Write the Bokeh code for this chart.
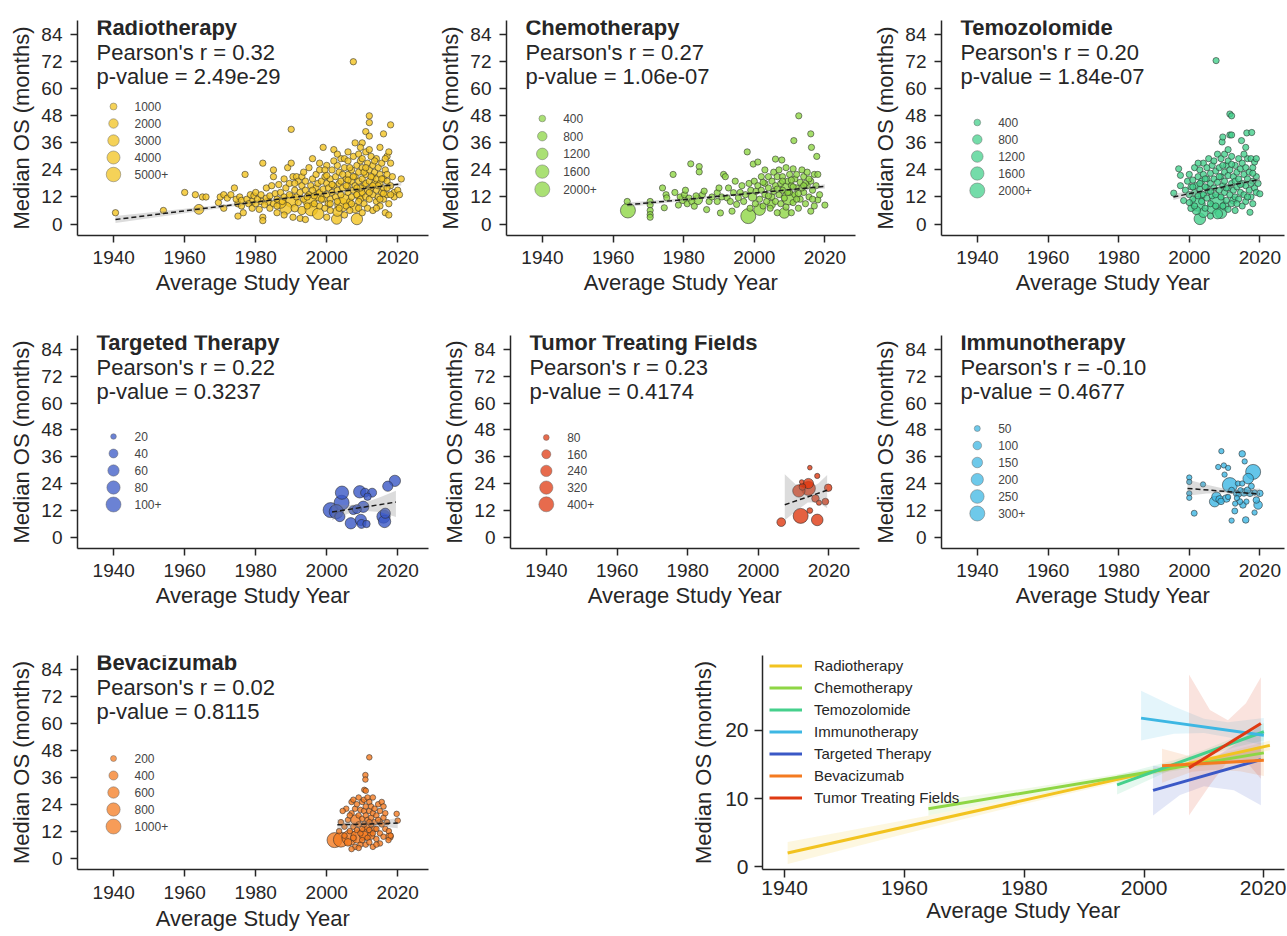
import math
from bokeh.plotting import figure
from bokeh.models import Range1d, FixedTicker, Label, Legend, LegendItem
from bokeh.layouts import row, column
from bokeh.embed import file_html
from bokeh.resources import INLINE

FONT = "Liberation Sans"
DARK = "#262626"

# ---------------- data (year, median OS months, sample size) ----------------
radio_pts = [
    (1940.5, 5, 800), (1954, 6, 800), (1960, 14, 800), (1963, 13, 800), (1964, 6.5, 2200), (1965, 12, 800),
    (1966, 12, 800), (1969.5, 9.5, 800), (1970, 12, 800), (1971, 13, 800), (1971, 7, 800), (1972, 11.5, 800),
    (1973, 13, 800), (1974, 16, 800), (1974.5, 11, 800), (1975, 3.5, 800), (1975, 9, 900), (1975.5, 12, 800),
    (1976, 8, 800), (1976, 10.5, 800), (1976.5, 5, 800), (1977, 22, 800), (1977.5, 11, 800), (1978, 9, 800),
    (1978.5, 13, 800), (1979, 10, 1000), (1979, 7, 800), (1979.5, 12.5, 800), (1980, 9, 800), (1980, 14, 800),
    (1980.5, 11, 800), (1981, 6.5, 800), (1981.5, 10, 900), (1981.5, 13, 800), (1982, 27, 800), (1982, 3, 800),
    (1982, 1.5, 800), (1982.5, 8.5, 800), (1983, 11.5, 800), (1983, 16, 800), (1983.5, 10, 1200), (1984, 7, 800),
    (1984, 12.5, 800), (1984.5, 17, 800), (1985, 21, 800), (1985, 24, 800), (1985, 9, 800), (1985.5, 13.5, 800),
    (1986, 5, 800), (1986, 11, 800), (1986.5, 17.5, 800), (1987, 14, 800), (1987, 9.5, 3000), (1987.5, 10, 800),
    (1988, 20, 800), (1988, 12, 800), (1988.5, 7, 3500), (1988.5, 16, 800), (1989, 25, 800), (1989.5, 13, 800),
    (1989.5, 18, 800), (1990, 42, 800), (1990, 27, 800), (1990, 10.5, 4500), (1990.5, 21, 800), (1990.5, 3, 800),
    (1991, 15, 800), (1991, 7, 1200), (1991.5, 12, 800), (1991.5, 21, 800), (1992, 19, 800), (1992, 9.5, 800),
    (1992.5, 2.5, 800), (1992.5, 14, 800), (1993, 17, 800), (1993, 21, 800), (1993, 6, 1500), (1993.5, 11, 800),
    (1994, 2, 800), (1994, 15, 800), (1994, 19, 800), (1994.5, 8, 800), (1995.2, 10.5, 5000), (1995, 13, 800),
    (1995, 25, 800), (1995.5, 17, 800), (1995.6, 6.5, 4000), (1996, 29, 800), (1996, 20, 800), (1996.5, 12.5, 800),
    (1997, 16, 800), (1997, 22, 800), (1997.6, 4.5, 3000), (1997.8, 12.5, 2500), (1997.5, 18, 800), (1998, 14, 800),
    (1998, 8, 800), (1998, 24, 800), (1998.5, 19, 800), (1999, 34, 800), (1999, 11, 800), (1999, 15.5, 800),
    (1999.5, 21, 800), (1999.5, 7, 800), (2000, 13, 800), (2000, 18, 800), (2000, 26, 800), (2000, 3, 800),
    (2000.5, 9, 1000), (2000.5, 16, 800), (2001, 20, 800), (2001, 11, 800), (2001, 6, 800), (2001.5, 14, 800),
    (2001.5, 24, 800), (2002, 33, 800), (2002, 17, 800), (2002.8, 2.2, 2500), (2003, 5.5, 2000), (2002.5, 12, 800),
    (2002.5, 21, 800), (2003, 26, 800), (2003, 15, 800), (2003, 10, 800), (2003.5, 18, 800), (2003.5, 23, 800),
    (2004, 29, 800), (2004, 13, 800), (2004.2, 8.5, 4500), (2004, 19, 800), (2004.5, 16, 800), (2005, 25, 800),
    (2005, 29, 800), (2005, 11, 2500), (2005, 4, 800), (2005.5, 20, 800), (2005.5, 8, 800), (2006, 28, 800),
    (2006, 17, 800), (2006, 14, 800), (2006, 22, 800), (2006.5, 10, 800), (2006.5, 6, 800), (2007, 19, 800),
    (2007, 24, 800), (2007, 12, 800), (2007.5, 72, 800), (2007.5, 15, 800), (2007.5, 30, 800), (2008, 36, 800),
    (2008, 21, 800), (2008, 7, 2000), (2008.5, 2.2, 3000), (2008, 17, 800), (2008.5, 26, 800), (2008.5, 13, 800),
    (2009, 31, 800), (2009, 19, 800), (2009, 23, 800), (2009, 7, 800), (2009.2, 13, 2500), (2009.5, 11, 800),
    (2009.5, 28, 800), (2010, 36, 800), (2010, 20, 800), (2010, 14, 800), (2010, 5, 800), (2010, 25, 800),
    (2010.5, 17, 800), (2010.5, 9, 800), (2011, 41, 800), (2011, 32, 800), (2011, 22, 800), (2011, 12, 800),
    (2011, 18, 800), (2011.5, 27, 800), (2011.5, 15, 800), (2011.5, 7, 800), (2012, 48, 800), (2012, 45, 800),
    (2012, 39, 800), (2012, 24, 800), (2012, 19, 800), (2012, 11, 800), (2012.5, 30, 800), (2012.5, 16, 800),
    (2013, 21, 800), (2013, 26, 800), (2013, 13, 800), (2013, 6, 800), (2013.5, 18, 800), (2013.5, 23, 800),
    (2014, 29, 800), (2014, 15, 800), (2014, 10, 800), (2014, 20, 800), (2014.5, 25, 800), (2014.5, 12, 800),
    (2015, 34, 800), (2015, 18, 800), (2015, 22, 800), (2015, 8, 800), (2015.5, 14, 800), (2015.5, 27, 800),
    (2016, 40, 800), (2016, 20, 800), (2016, 16, 800), (2016, 11, 800), (2016.5, 24, 800), (2016.5, 5, 800),
    (2017, 30, 800), (2017, 19, 800), (2017, 13, 800), (2017, 22, 800), (2017.5, 32, 800), (2017.5, 9, 800),
    (2017.5, 4, 800), (2018, 44, 800), (2018, 17, 800), (2018, 27, 800), (2019, 14, 800), (2019, 12, 800),
    (2020, 15, 800), (2021, 20, 800), (2020.5, 13, 800), (1996.5, 9, 800), (1998.5, 11, 800), (2001, 9, 800),
    (2003.5, 7, 800), (2006, 19.5, 800), (2007, 9, 800), (2009.5, 16, 800), (2012.5, 21, 800), (2014.5, 17, 800),
    (2016, 13.5, 800), (2018.5, 21, 800), (2010.5, 23, 800), (1999.5, 24, 800), (1994.5, 12, 800),
    (1986, 8, 800), (1988, 4, 800), (1991, 18, 800), (1993.5, 23, 800), (1996, 15, 800), (1998, 27, 800),
    (2000, 21.5, 800), (2001.5, 17.5, 800), (2002, 28, 800), (2003, 31, 800), (2004.5, 22, 800), (2005.5, 17, 800),
    (2006.5, 25, 800), (2007.5, 21, 800), (2008.5, 16, 800), (2009, 10, 800), (2010, 29, 800), (2011, 25, 800),
    (2012, 14, 800), (2013, 17, 800), (2013.5, 28, 800), (2014, 7, 800), (2015, 11, 800), (2015.5, 20, 800),
    (2016.5, 29, 800), (2017, 16, 800), (2018, 13, 800), (2012, 33, 800), (2009.5, 34, 800), (2006, 32, 800),
]

chemo_pts = [
    (1964, 10, 350), (1964.2, 6, 2000), (1970.5, 10, 350), (1970.5, 8.5, 350), (1970.5, 6, 350), (1970.5, 4.2, 350),
    (1970.5, 3, 350), (1974, 16, 350), (1974.5, 7.2, 350), (1975, 13, 350), (1975.2, 11.6, 350), (1977, 22, 350),
    (1977.5, 14, 350), (1978.5, 8.4, 350), (1979, 12, 350), (1979.8, 10.9, 600), (1980.2, 13, 350), (1980.5, 15, 350),
    (1981, 9, 350), (1981.5, 11.5, 350), (1982, 26.7, 350), (1982.3, 10, 350), (1983, 7.9, 350), (1983.5, 12.5, 350),
    (1984, 10.7, 800), (1984.4, 25.5, 350), (1984.4, 23.1, 350), (1985.3, 13, 350), (1985.8, 14.6, 350),
    (1986.5, 6.4, 350), (1987.2, 10, 350), (1988, 12, 350), (1989.5, 13.9, 350), (1989.5, 10, 350), (1990, 16, 350),
    (1990.4, 4.9, 350), (1990.8, 12, 350), (1991.3, 22, 350), (1991.8, 21, 350), (1992.3, 11.6, 350),
    (1992.7, 16, 350), (1993.2, 10, 350), (1993.7, 5.7, 350), (1994.1, 13.9, 350), (1994.6, 19, 350),
    (1995, 8.7, 350), (1995.5, 11.6, 350), (1996, 14, 350), (1996.5, 17, 350), (1997, 10, 350), (1997.5, 13, 350),
    (1998, 32, 350), (1998.3, 3.5, 2000), (1998.5, 18, 350), (1998.8, 7, 350), (1999, 15, 350), (1999.5, 12, 600),
    (1999.7, 26.6, 350), (2000, 19, 350), (2000.3, 9, 350), (2000.5, 14.5, 350), (2001, 27.5, 350), (2001, 17, 350),
    (2001.5, 6.4, 1200), (2001.5, 11, 350), (2002, 21, 350), (2002, 15, 350), (2002.5, 8, 350), (2003, 24, 350),
    (2003, 13, 350), (2003, 18, 350), (2003.5, 10, 350), (2004, 21, 350), (2004, 16, 350), (2004.5, 7, 350),
    (2004.8, 8.7, 600), (2005, 12, 350), (2005, 19, 350), (2005.5, 23, 350), (2005.5, 14.5, 350), (2006, 28.8, 350),
    (2006, 10, 350), (2006, 17, 350), (2006.5, 21, 350), (2006.5, 5, 350), (2007, 13, 350), (2007, 24, 350),
    (2007.5, 18, 350), (2007.8, 28.4, 350), (2007.5, 9, 350), (2008, 15, 350), (2008, 21, 350), (2008.5, 4.9, 1000),
    (2008.5, 11.5, 350), (2008.9, 16, 900), (2009, 25, 350), (2009, 7.5, 350), (2009.5, 19, 350),
    (2009.8, 11.6, 1800), (2010, 22, 350), (2010, 14, 350), (2010.5, 5, 350), (2010.5, 17, 350), (2011, 24.5, 350),
    (2011.2, 37, 350), (2011, 9.5, 350), (2011.5, 20, 350), (2011.5, 13, 350), (2012, 16, 350), (2012.6, 48, 350),
    (2012, 22, 350), (2012.5, 7, 350), (2013, 11, 350), (2013, 18.5, 350), (2013.5, 24, 350), (2014, 14, 350),
    (2014, 21, 350), (2014.5, 9, 350), (2015, 17, 350), (2015, 23, 350), (2015.5, 12, 350), (2016, 40, 350),
    (2016.2, 34, 350), (2016, 5.7, 350), (2016, 19, 350), (2016.5, 15, 350), (2017, 22, 350), (2017, 8, 350),
    (2017.7, 30, 350), (2018, 10.7, 350), (2018, 22, 350), (2018.5, 13, 350), (2020, 8.4, 350), (2013.5, 16, 350),
    (2014.5, 18, 350), (2010.5, 19.5, 350), (2009.5, 14, 350), (2012.5, 13.5, 350),
    (2002.5, 18.5, 350), (2004, 12.5, 350), (2006.5, 15.5, 350), (2008, 19, 350), (2011, 16.5, 350),
    (2012, 11, 350), (2014, 17, 350), (2015.5, 20, 350), (2016.5, 11, 350), (2017.5, 17, 350),
]

tmz_pts = [
    (1995.6, 13.7, 350), (1997, 24.5, 350), (1997.5, 21.6, 350), (1997.5, 17, 350), (1998.4, 10.4, 350),
    (1998.9, 15, 350), (1999.5, 19, 350), (2000, 13, 350), (2000, 22, 350), (2000.5, 16.5, 350), (2001, 11, 350),
    (2001, 19.5, 350), (2001.5, 25, 350), (2001.5, 14, 350), (2002, 17, 350), (2002.4, 9, 2000), (2002.5, 21, 350),
    (2002.5, 12.5, 350), (2003, 2.3, 1200), (2003, 15.5, 350), (2003, 24, 350), (2003.5, 19, 350), (2003.5, 10, 350),
    (2004, 13, 350), (2004, 22, 350), (2004, 27, 350), (2004.5, 16.5, 350), (2004.5, 7, 350), (2005, 20, 350),
    (2005, 11.5, 350), (2005, 25, 350), (2005.5, 14.5, 350), (2005.5, 29, 350), (2006, 18, 350), (2006, 22.5, 350),
    (2006, 9, 350), (2006, 3.5, 350), (2006.5, 12.5, 350), (2006.5, 26, 350), (2007, 16, 350), (2007, 20, 350),
    (2007, 28, 350), (2007.6, 72.5, 350), (2007.5, 13, 350), (2007.5, 23.5, 350), (2008, 10, 2000), (2008, 4.5, 900),
    (2008, 18.5, 350), (2008, 31, 350), (2008.5, 15, 350), (2008.5, 25, 350), (2009, 21, 350), (2009, 12, 350),
    (2009, 29, 350), (2009.3, 36.4, 350), (2009.5, 17, 350), (2009.5, 38.6, 350), (2009.5, 8, 350), (2010, 23, 350),
    (2010, 14, 350), (2010, 31, 350), (2010, 19, 350), (2010.5, 26, 350), (2010.5, 10.5, 350), (2011, 16, 350),
    (2011, 21.5, 350), (2011, 28, 350), (2011, 6.5, 350), (2011.5, 48.8, 350), (2011.5, 39.5, 350), (2011.5, 13, 350),
    (2011.5, 24, 350), (2012, 18, 350), (2012, 48, 350), (2012, 39.5, 350), (2012, 30, 350), (2012, 9, 350),
    (2012.5, 21, 350), (2012.5, 15, 350), (2013, 26, 350), (2013, 12, 350), (2013, 19, 350), (2013, 6, 350),
    (2013.5, 23, 350), (2013.5, 16.5, 350), (2014, 29, 350), (2014, 20, 350), (2014, 11, 350), (2014.5, 24.5, 350),
    (2014.5, 14, 350), (2014.8, 37, 350), (2015, 18, 350), (2015, 8, 350), (2015, 27, 350), (2015.5, 22, 350),
    (2015.5, 13, 350), (2016, 34, 350), (2016, 17, 350), (2016, 25, 350), (2016.3, 40.4, 350), (2016, 10, 350),
    (2016.5, 20, 350), (2016.5, 29, 350), (2017, 15, 350), (2017, 23, 350), (2017.2, 5.2, 350), (2017.5, 12, 350),
    (2017.7, 40.6, 350), (2017.5, 29, 350), (2018, 19, 350), (2018, 25, 350), (2018, 9, 350), (2018.5, 16, 350),
    (2018.5, 27.5, 350), (2019, 21, 350), (2019, 14, 350), (2020, 13.4, 350), (2019.5, 18, 350), (2002, 6, 600),
    (2004, 5, 800), (2006.5, 7, 1000), (2009, 5, 1200), (2010, 8, 600), (2012.5, 10.5, 500), (2000.5, 7, 400),
    (2003.5, 13, 500), (2005, 16, 400), (2001.5, 8, 350), (2002.5, 27, 350), (2007.5, 8, 350), (2008.5, 21, 350),
    (2010.5, 16, 350), (2013.5, 9, 350), (2014.5, 17.5, 350), (2015.5, 31, 350), (2016.5, 12, 350),
    (2017.5, 18, 350), (2018, 22.5, 350), (2019, 29, 350), (2012, 26.5, 350), (2011, 33, 350), (2009.5, 26, 350),
    (2006, 14.5, 350), (2004.5, 20, 350), (2003, 18, 350), (2001, 16.5, 350), (2000, 9.5, 350),
]

targeted_pts = [
    (2001.1, 12.1, 110), (2002.7, 11.4, 90), (2004.2, 15.4, 100), (2004.3, 19.9, 80), (2003.7, 9.2, 50),
    (2006.8, 6.2, 60), (2007.5, 12.1, 40), (2009.3, 20.3, 70), (2009.6, 7.7, 60), (2009.8, 5.9, 40),
    (2010.3, 13.6, 60), (2010.8, 19.9, 40), (2011.5, 18.1, 30), (2012.8, 19.9, 40), (2011.2, 5.9, 30),
    (2016.0, 9.2, 80), (2016.3, 7.0, 70), (2016.5, 10.7, 50), (2017.2, 22.8, 50), (2019.2, 25.2, 60),
    (2008.5, 12.5, 40),
]

ttf_pts = [
    (2006.5, 6.7, 150), (2011.5, 20.7, 280), (2012.0, 9.5, 420), (2012.3, 24.7, 60), (2014.2, 24.0, 200),
    (2014.2, 21.8, 350), (2014.6, 31.1, 60), (2014.6, 11.9, 80), (2016.7, 27.4, 70), (2016.2, 17.3, 120),
    (2017.2, 15.4, 70), (2016.7, 7.7, 250), (2019.8, 22.1, 120), (2019.0, 15.9, 100), (2012.5, 22.5, 100),
]

immuno_pts = [
    (2000, 26.7, 40), (2000, 24.7, 40), (2000, 19.6, 40), (2000, 17.6, 40), (2001.4, 10.7, 50), (2003.9, 23.6, 40),
    (2007.2, 15.9, 150), (2007.7, 18.1, 120), (2008.2, 31.4, 40), (2008.6, 16.9, 80), (2009.1, 38.5, 40),
    (2009.8, 32.1, 40), (2010, 28, 40), (2010.5, 17.3, 80), (2011, 31, 40), (2011.5, 23.3, 300), (2012, 7.4, 40),
    (2012.9, 11.7, 50), (2013, 15, 40), (2013.4, 19.6, 60), (2013.8, 24, 40), (2014.3, 15.9, 50), (2014.5, 21, 40),
    (2015, 37.3, 60), (2015.2, 14.4, 60), (2015.5, 20, 80), (2015.7, 33.9, 40), (2016, 7.7, 60), (2016.2, 15.9, 40),
    (2016.7, 26.2, 150), (2017.2, 19.6, 60), (2017.6, 22.8, 50), (2018.1, 29.2, 300), (2018.5, 11, 40),
    (2019, 16.6, 60), (2019.5, 14.4, 100), (2020, 19.6, 60), (2012, 21, 50), (2014, 19, 40), (2016.5, 21, 60),
    (2011, 18, 40), (2009, 16, 60), (2013.5, 17.5, 40), (2018.5, 20, 40), (2015, 24, 40),
]

bev_pts = [
    (2012, 44.9, 180), (2010.9, 37, 180), (2010.9, 35, 180), (2010.6, 30.4, 180), (2011, 30, 180),
    (2002.2, 8, 1100), (2004, 8.2, 1000), (2006.4, 9, 1000), (2008.7, 9.6, 800), (2011, 11, 800), (2008.2, 17, 500),
    (2011.5, 14, 300), (2005.5, 22, 180), (2006, 17, 180), (2006.5, 12, 180), (2007, 25, 180), (2007, 20, 180),
    (2007.5, 14, 180), (2007.5, 26, 180), (2008, 22, 180), (2008, 5, 180), (2008.5, 12.5, 180), (2008.5, 24, 180),
    (2009, 19, 180), (2009, 27, 180), (2009, 15, 180), (2009.5, 21.5, 180), (2009.5, 11, 180), (2009.5, 6, 180),
    (2010, 25, 180), (2010, 17.5, 180), (2010, 13, 180), (2010, 8, 180), (2010.5, 21, 180), (2010.5, 15, 180),
    (2010.5, 26, 180), (2011, 19, 180), (2011, 23, 180), (2011, 6, 180), (2011.5, 27, 180), (2011.5, 17, 180),
    (2011.5, 9, 180), (2012, 21, 180), (2012, 12.5, 180), (2012, 25, 180), (2012, 7, 180), (2012.5, 18, 180),
    (2012.5, 15, 180), (2012.5, 23, 180), (2013, 27, 180), (2013, 20, 180), (2013, 11, 180), (2013, 5, 180),
    (2013.5, 16, 180), (2013.5, 22, 180), (2014, 13, 180), (2014, 19, 180), (2014, 8.5, 180), (2014.5, 24, 180),
    (2014.5, 17, 180), (2015, 21, 180), (2015, 11, 180), (2015, 6.5, 180), (2015.5, 25, 180), (2015.5, 15, 180),
    (2016, 18, 180), (2016, 23, 180), (2016, 9.5, 180), (2016.5, 13, 180), (2017, 16, 180), (2017.4, 8, 180),
    (2017.7, 9.6, 300), (2017.5, 12, 180), (2018, 10, 180), (2019.7, 19.7, 180), (2020, 16.7, 180), (2005, 10, 180),
    (2006, 7, 300), (2007, 4, 180), (2004.5, 21, 180), (2005, 14, 180), (2009, 4.5, 180), (2012, 16, 180),
    (2014, 6, 180), (2016.5, 20, 180), (2003.5, 12, 180), (2004, 16, 180), (2006.5, 19, 180), (2007.5, 9, 200),
    (2013.5, 13, 200), (2015, 16, 200), (2010.5, 10, 400), (2012.5, 10, 300),
]

# regression fits (line end points) and confidence bands
radio_fit_x, radio_fit_y = [1940.5, 2021], [2.0, 17.8]
radio_ci_x = [1940.5, 1960, 1980, 2000, 2010, 2021]
radio_ci_lo = [0.4, 4.8, 9.2, 13.25, 15.1, 17.1]
radio_ci_hi = [3.6, 6.8, 10.2, 13.95, 15.9, 18.5]

chemo_fit_x, chemo_fit_y = [1964, 2020], [8.5, 16.7]
chemo_ci_x = [1964, 1980, 2000, 2010, 2020]
chemo_ci_lo = [7.5, 10.24, 13.37, 14.74, 15.8]
chemo_ci_hi = [9.5, 11.44, 14.17, 15.74, 17.6]

tmz_fit_x, tmz_fit_y = [1995.5, 2020], [12.0, 19.8]
tmz_ci_x = [1995.5, 2005, 2010, 2015, 2020]
tmz_ci_lo = [10.6, 14.42, 16.11, 17.5, 18.5]
tmz_ci_hi = [13.4, 15.62, 17.11, 18.9, 21.1]

immuno_fit_x, immuno_fit_y = [1999.5, 2020], [21.8, 19.3]
immuno_ci_x = [1999.5, 2005, 2010, 2014, 2020]
immuno_ci_lo = [18.5, 19.5, 19.6, 19.0, 17.8]
immuno_ci_hi = [25.8, 23.5, 21.7, 21.2, 21.8]

targeted_fit_x, targeted_fit_y = [2001.5, 2019.5], [11.2, 15.7]
targeted_ci_x = [2001.5, 2006, 2010, 2015, 2019.5]
targeted_ci_lo = [7.5, 10.5, 11.8, 11.2, 9.0]
targeted_ci_hi = [14.8, 14.3, 15.0, 17.8, 20.8]

bev_fit_x, bev_fit_y = [2003, 2020], [14.8, 15.6]
bev_ci_x = [2003, 2008, 2012, 2016, 2020]
bev_ci_lo = [12.3, 13.94, 14.22, 14.01, 13.3]
bev_ci_hi = [17.3, 16.14, 16.22, 16.81, 17.9]

ttf_fit_x, ttf_fit_y = [2007.5, 2019.5], [14.5, 21.0]
ttf_ci_x = [2007.5, 2011, 2014, 2017, 2019.5]
ttf_ci_lo = [7.5, 12.0, 15.5, 15.5, 12.9]
ttf_ci_hi = [28.2, 23.0, 21.5, 24.0, 27.8]

x_ticks = [1940, 1960, 1980, 2000, 2020]
y_ticks = [0, 12, 24, 36, 48, 60, 72, 84]
comb_y_ticks = [0, 10, 20]

COL = {
    "Radiotherapy": "#F2C320", "Chemotherapy": "#8ED645", "Temozolomide": "#45D08C",
    "Immunotherapy": "#3DB7E3", "Targeted Therapy": "#3A58C6", "Bevacizumab": "#F47B20",
    "Tumor Treating Fields": "#DF3A12",
}


def style_axes(p, tick_size="19px", tick_out=7, xstand=8, ystand=8, lab_size="22px", xls=3, yls=4):
    p.outline_line_color = None
    p.xgrid.visible = False
    p.ygrid.visible = False
    p.background_fill_color = "white"
    p.border_fill_color = "white"
    for ax in (p.xaxis[0], p.yaxis[0]):
        ax.axis_line_color = DARK
        ax.axis_line_width = 1.5
        ax.major_tick_line_color = DARK
        ax.major_tick_line_width = 1.5
        ax.major_tick_out = tick_out
        ax.major_tick_in = 0
        ax.minor_tick_line_color = None
        ax.major_label_text_font = FONT
        ax.major_label_text_font_size = tick_size
        ax.major_label_text_color = DARK
        ax.axis_label_text_font = FONT
        ax.axis_label_text_font_size = lab_size
        ax.axis_label_text_font_style = "normal"
        ax.axis_label_text_color = DARK
    p.xaxis[0].major_label_standoff = xstand
    p.yaxis[0].major_label_standoff = ystand
    p.xaxis[0].axis_label = "Average Study Year"
    p.yaxis[0].axis_label = "Median OS (months)"
    p.xaxis[0].axis_label_standoff = xls
    p.yaxis[0].axis_label_standoff = yls


def diam(n, v_lo, v_hi, d_lo, d_hi):
    n = min(n, v_hi)
    a = d_lo ** 2 + (d_hi ** 2 - d_lo ** 2) * (n - v_lo) / (v_hi - v_lo)
    return max(a, (0.8 * d_lo) ** 2) ** 0.5


def panel(name, stats_r, stats_p, pts, leg_vals, leg_labels, d_lo, d_hi, leg_top, leg_step,
          fit_x, fit_y, ci_x, ci_lo, ci_hi, w, h, mbl, mbr, mbt, mbb, xstand=8, xls=3):
    fw = w - mbl - mbr
    fh = h - mbt - mbb
    x0, y0, y1 = 1929.8, -5.1, 90.3
    x_end = x0 + fw / 3.55
    p = figure(width=w, height=h, min_border_left=mbl, min_border_right=mbr,
               min_border_top=mbt, min_border_bottom=mbb, x_range=Range1d(x0, x_end),
               y_range=Range1d(y0, y1), output_backend="svg", toolbar_location=None)
    style_axes(p, xstand=xstand, xls=xls)
    p.xaxis.ticker = FixedTicker(ticks=x_ticks)
    p.yaxis.ticker = FixedTicker(ticks=y_ticks)
    ppx = fw / (x_end - x0)
    ppy = fh / (y1 - y0)
    color = COL[name]
    v_lo, v_hi = leg_vals[0], leg_vals[-1]
    srt = sorted(pts, key=lambda t: -t[2])
    xs = [t[0] for t in srt]
    ys = [t[1] for t in srt]
    ss = [diam(t[2], v_lo, v_hi, d_lo, d_hi) for t in srt]
    p.scatter(xs, ys, size=ss, fill_color=color, fill_alpha=0.8, line_color="#2a2a2a",
              line_alpha=0.7, line_width=0.8)
    p.varea(x=ci_x, y1=ci_lo, y2=ci_hi, fill_color="#8c8c8c", fill_alpha=0.3)
    p.line(fit_x, fit_y, line_color="#1a1a1a", line_width=1.5, line_dash="5 3")
    # size legend
    lx = x0 + 36 / ppx
    tx = x0 + 57 / ppx
    for i, (v, lab) in enumerate(zip(leg_vals, leg_labels)):
        ly = y1 - (leg_top + i * leg_step) / ppy
        p.scatter([lx], [ly], size=diam(v, v_lo, v_hi, d_lo, d_hi), fill_color=color, fill_alpha=0.75,
                  line_color="#666666", line_alpha=0.6, line_width=0.8)
        p.add_layout(Label(x=tx, y=ly, text=lab, text_font=FONT, text_font_size="12px",
                           text_color="#444444", text_baseline="middle", text_align="left"))
    ax = x0 + 19 / ppx
    p.add_layout(Label(x=ax, y=y1 - 7 / ppy, text=name, text_font=FONT, text_font_size="22px",
                       text_font_style="bold", text_color=DARK, text_baseline="middle"))
    p.add_layout(Label(x=ax, y=y1 - 32 / ppy, text=stats_r, text_font=FONT, text_font_size="22px",
                       text_color=DARK, text_baseline="middle"))
    p.add_layout(Label(x=ax, y=y1 - 56 / ppy, text=stats_p, text_font=FONT, text_font_size="22px",
                       text_color=DARK, text_baseline="middle"))
    return p


p1 = panel("Radiotherapy", "Pearson's r = 0.32", "p-value = 2.49e-29", radio_pts,
           [1000, 2000, 3000, 4000, 5000], ["1000", "2000", "3000", "4000", "5000+"], 7, 14.5, 86, 17,
           radio_fit_x, radio_fit_y, radio_ci_x, radio_ci_lo, radio_ci_hi, 435, 323, 77, 7, 20, 88)
p2 = panel("Chemotherapy", "Pearson's r = 0.27", "p-value = 1.06e-07", chemo_pts,
           [400, 800, 1200, 1600, 2000], ["400", "800", "1200", "1600", "2000+"], 6.7, 15, 98, 17.7,
           chemo_fit_x, chemo_fit_y, chemo_ci_x, chemo_ci_lo, chemo_ci_hi, 435, 323, 69, 15, 20, 88)
p3 = panel("Temozolomide", "Pearson's r = 0.20", "p-value = 1.84e-07", tmz_pts,
           [400, 800, 1200, 1600, 2000], ["400", "800", "1200", "1600", "2000+"], 6.7, 15, 102, 17,
           tmz_fit_x, tmz_fit_y, tmz_ci_x, tmz_ci_lo, tmz_ci_hi, 416, 323, 69, 2, 20, 88)
p4 = panel("Targeted Therapy", "Pearson's r = 0.22", "p-value = 0.3237", targeted_pts,
           [20, 40, 60, 80, 100], ["20", "40", "60", "80", "100+"], 5.6, 15, 101, 17,
           targeted_fit_x, targeted_fit_y, targeted_ci_x, targeted_ci_lo, targeted_ci_hi,
           439, 320, 77, 11, 12, 95)
p5 = panel("Tumor Treating Fields", "Pearson's r = 0.23", "p-value = 0.4174", ttf_pts,
           [80, 160, 240, 320, 400], ["80", "160", "240", "320", "400+"], 5.8, 15, 102, 16.7,
           ttf_fit_x, ttf_fit_y, ttf_ci_x, ttf_ci_lo, ttf_ci_hi, 431, 320, 69, 11, 12, 95)
p6 = panel("Immunotherapy", "Pearson's r = -0.10", "p-value = 0.4677", immuno_pts,
           [50, 100, 150, 200, 250, 300], ["50", "100", "150", "200", "250", "300+"], 6, 15, 93, 17,
           immuno_fit_x, immuno_fit_y, immuno_ci_x, immuno_ci_lo, immuno_ci_hi, 416, 320, 69, 2, 12, 95)
p7 = panel("Bevacizumab", "Pearson's r = 0.02", "p-value = 0.8115", bev_pts,
           [200, 400, 600, 800, 1000], ["200", "400", "600", "800", "1000+"], 6, 15, 103, 17,
           bev_fit_x, bev_fit_y, bev_ci_x, bev_ci_lo, bev_ci_hi, 440, 292, 77, 12, 12, 66, xstand=9, xls=4)

# ---------------- combined regression panel ----------------
cw, ch, cmbl, cmbr, cmbt, cmbb = 846, 292, 322, 2, 3, 66
cfw, cfh = cw - cmbl - cmbr, ch - cmbt - cmbb
cppy = 7.1
cy1 = 30.99
cy0 = cy1 - cfh / cppy
cx0 = 1936.3
cx1 = cx0 + cfw / 5.99
p8 = figure(width=cw, height=ch, min_border_left=cmbl, min_border_right=cmbr,
            min_border_top=cmbt, min_border_bottom=cmbb, x_range=Range1d(cx0, cx1), y_range=Range1d(cy0, cy1),
            output_backend="svg", toolbar_location=None)
style_axes(p8, tick_size="21px", tick_out=8, xstand=3, ystand=6, lab_size="22px", xls=0, yls=6)
p8.xaxis.ticker = FixedTicker(ticks=x_ticks)
p8.yaxis.ticker = FixedTicker(ticks=comb_y_ticks)
series = [
    ("Radiotherapy", radio_fit_x, radio_fit_y, radio_ci_x, radio_ci_lo, radio_ci_hi),
    ("Chemotherapy", chemo_fit_x, chemo_fit_y, chemo_ci_x, chemo_ci_lo, chemo_ci_hi),
    ("Temozolomide", tmz_fit_x, tmz_fit_y, tmz_ci_x, tmz_ci_lo, tmz_ci_hi),
    ("Immunotherapy", immuno_fit_x, immuno_fit_y, immuno_ci_x, immuno_ci_lo, immuno_ci_hi),
    ("Targeted Therapy", targeted_fit_x, targeted_fit_y, targeted_ci_x, targeted_ci_lo, targeted_ci_hi),
    ("Bevacizumab", bev_fit_x, bev_fit_y, bev_ci_x, bev_ci_lo, bev_ci_hi),
    ("Tumor Treating Fields", ttf_fit_x, ttf_fit_y, ttf_ci_x, ttf_ci_lo, ttf_ci_hi),
]
for name, fx, fy, cx, clo, chi in series:
    p8.varea(x=cx, y1=clo, y2=chi, fill_color=COL[name], fill_alpha=0.14)
items = []
for name, fx, fy, cx, clo, chi in series:
    r = p8.line(fx, fy, line_color=COL[name], line_width=3)
    items.append(LegendItem(label=name, renderers=[r]))
leg = Legend(items=items, location=(7, 62), padding=6, spacing=3, glyph_width=33, glyph_height=19,
             label_height=19, label_standoff=12, border_line_color=None, background_fill_alpha=0,
             label_text_font=FONT, label_text_font_size="15px", label_text_color=DARK, margin=0)
p8.add_layout(leg)

layout = column(row(p1, p2, p3), row(p4, p5, p6), row(p7, p8))
open("out.html", "w").write(file_html(layout, INLINE, title="Median OS vs study year"))
